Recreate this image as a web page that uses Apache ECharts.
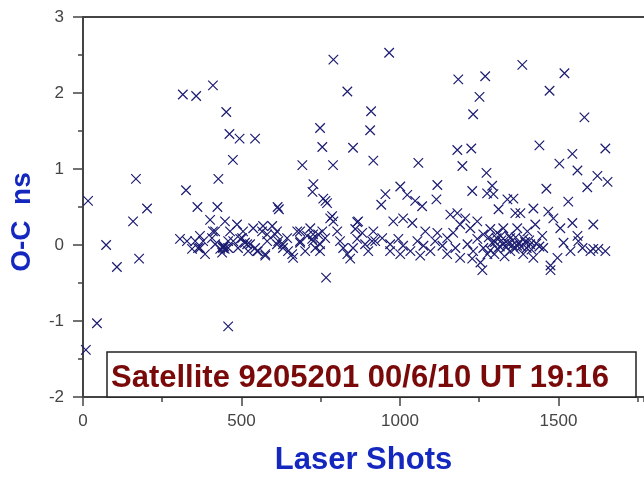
<!DOCTYPE html>
<html>
<head>
<meta charset="utf-8">
<script src="https://cdn.jsdelivr.net/npm/echarts@6/dist/echarts.min.js"></script>
<style>
html,body{margin:0;padding:0;background:#fff;}
#chart{width:644px;height:479px;}
</style>
</head>
<body>
<div id="chart"></div>
<script>
// ---- data (laser shot index, O-C residual in ns) ----
const xTicks = [0, 500, 1000, 1500];
const yTicks = [-2, -1, 0, 1, 2, 3];
const xTitle = 'Laser Shots';
const yTitle = 'O-C  ns';
const boxText = 'Satellite 9205201 00/6/10 UT 19:16';

const lowPoints = [
  [9,-1.38],[44,-1.03],[458,-1.07],[767,-0.43],[107,-0.29],[177,-0.18],[73,0.0]
];
const highPoints = [
  [16,0.58],[158,0.31],[167,0.87],[202,0.48],[315,1.98],[357,1.96],[410,2.10],[325,0.72],
  [452,1.75],[462,1.46],[494,1.40],[543,1.40],[473,1.12],[427,0.87],[361,0.50],[424,0.50],
  [401,0.33],[614,0.50],[618,0.47],[692,1.05],[727,0.80],[724,0.70],[748,1.54],[755,1.29],
  [765,0.58],[790,2.44],[966,2.53],[834,2.02],[909,1.76],[906,1.51],[852,1.28],[789,1.05],
  [916,1.11],[1058,1.08],[1184,2.18],[1269,2.22],[1251,1.95],[1231,1.72],[1386,2.37],[1519,2.26],
  [1472,2.03],[1582,1.68],[1181,1.25],[1225,1.27],[1197,1.04],[1273,0.95],[1440,1.31],[1544,1.20],
  [1503,1.07],[1560,0.98],[1648,1.27],[1623,0.91],[1655,0.83],[1591,0.76],[1462,0.74],[1531,0.57]
];
const midPoints = [
  [1118,0.79],[1115,0.60],[954,0.67],[941,0.53],[1001,0.77],[1023,0.66],[1048,0.58],[1070,0.51],
  [1228,0.71],[1291,0.78],[1275,0.68],[1295,0.67],[1339,0.60],[1311,0.47],[1364,0.42],[758,0.61],
  [770,0.55],[786,0.38],[790,0.31],[868,0.31],[780,0.35],[865,0.30],[1358,0.61],[1380,0.42],
  [1421,0.48],[1468,0.44],[1484,0.35],[1544,0.29],[1610,0.27],[979,0.31],[1010,0.35],[1039,0.29],
  [1159,0.40],[1181,0.42],[1206,0.35],[1190,0.27],[1244,0.31],[448,0.31],[486,0.27],[597,0.25],
  [568,0.25],[537,0.22],[717,0.22],[1222,0.22],[1326,0.22],[1427,0.27],[1506,0.22],[1370,0.22]
];
const bandLeft = [
  [306,0.08],[328,0.05],[354,0.05],[363,-0.04],[385,-0.12],[344,-0.05],[379,0.05],[407,0.09],
  [417,0.01],[442,-0.04],[445,-0.02],[440,-0.03],[443,-0.01],[447,-0.05],[439,-0.10],[458,0.05],
  [417,0.18],[464,0.18],[502,0.09],[511,0.03],[527,0.01],[543,-0.04],[521,-0.08],[552,-0.08],
  [575,-0.12],[606,0.14],[616,0.05],[631,0.01],[647,-0.08],[663,-0.17],[676,0.18],[685,0.05],
  [707,0.12],[726,0.05],[733,-0.04],[748,-0.08],[742,0.14],[764,0.09],[802,0.18],[811,0.05],
  [821,-0.04],[834,-0.12],[843,-0.18],[852,-0.04],[865,0.08],[890,0.01],[900,-0.08],[916,0.18],
  [565,0.18],[581,0.05],[701,-0.08],[489,-0.04],[458,-0.04],[474,0.05],[859,0.21],[881,0.16],
  [912,0.05],[369,0.12],[410,0.18],[505,0.18],[581,0.14],[612,0.18],[644,0.09],[685,0.18],
  [726,0.14],[755,0.18],[369,-0.04],[433,-0.05],[496,0.08],[518,0.01],[549,-0.08],[575,-0.14],
  [612,0.01],[631,-0.04],[660,-0.12],[685,0.03],[723,0.08],[748,0.01]
];
const bandRight = [
  [1080,0.18],[1168,0.16],[1263,0.14],[1285,0.21],[1307,0.16],[1348,0.09],[1118,0.16],[922,0.05],
  [944,0.09],[969,0.01],[995,0.08],[1010,-0.01],[1033,-0.08],[1055,0.05],[1074,-0.01],[1096,-0.08],
  [1111,0.05],[1134,-0.01],[1149,0.09],[1175,-0.04],[1190,-0.17],[1213,0.01],[1231,-0.08],[1244,0.08],
  [1263,-0.04],[1276,-0.12],[1254,-0.23],[1291,0.03],[1307,-0.05],[1326,0.01],[1348,-0.08],[1370,-0.01],
  [969,-0.08],[1001,-0.12],[1064,-0.14],[1149,-0.12],[1228,-0.18],[1560,0.12],[1576,-0.04],[1626,-0.05],
  [1601,-0.08],[1516,0.03],[1497,-0.17],[1475,-0.27],[1402,0.18],[1449,0.12],[1411,0.01],[1421,-0.17],
  [1389,-0.12],[1452,-0.04],[1538,-0.08],[1563,0.05],[1260,-0.33],[1475,-0.33],[1610,-0.05],[1648,-0.08],
  [1300,0.04],[1315,-0.02],[1320,0.06],[1335,-0.03],[1340,0.02],[1355,0.00],[1362,-0.05],[1375,0.03],
  [1382,-0.02],[1395,0.04],[1400,-0.04],[1408,0.06],[1415,-0.06],[1430,0.02],[1440,-0.02],[1285,-0.07],
  [1298,-0.12],[1330,-0.15],[1345,0.12],[1365,0.10],[1390,0.08],[1280,0.10],[1318,0.12],[1305,0.09]
];

const allPoints = [].concat(lowPoints, highPoints, midPoints, bandLeft, bandRight);

const chart = echarts.init(document.getElementById('chart'), null, {renderer: 'canvas'});
const axisColor = '#444';
const labelFont = '"Liberation Sans", Arial, sans-serif';

const option = {
  backgroundColor: '#ffffff',
  animation: false,
  grid: {left: 83, top: 17, right: 0, bottom: 82, containLabel: false, outerBoundsMode: 'none'},
  xAxis: [
    {
      type: 'value', min: 0, max: 1770, interval: 500, position: 'bottom',
      splitLine: {show: false},
      axisLine: {show: true, onZero: false, lineStyle: {color: axisColor, width: 2}},
      axisTick: {show: true, length: 9, lineStyle: {color: axisColor, width: 1.5}},
      axisLabel: {
        show: true, showMaxLabel: false, margin: 16, color: '#444', fontSize: 17,
        fontFamily: labelFont,
        formatter: v => (xTicks.indexOf(v) >= 0 ? String(v) : '')
      },
      name: xTitle, nameLocation: 'middle', nameGap: 48,
      nameTextStyle: {color: '#1428c0', fontSize: 31, fontWeight: 'bold', fontFamily: labelFont}
    },
    {
      type: 'value', min: 0, max: 1770, interval: 250, position: 'bottom',
      splitLine: {show: false},
      axisLine: {show: false, onZero: false},
      axisTick: {show: true, length: 5, lineStyle: {color: axisColor, width: 1.5}},
      axisLabel: {show: false}
    },
    {
      type: 'value', min: 0, max: 1770, position: 'top',
      splitLine: {show: false},
      axisLine: {show: true, onZero: false, lineStyle: {color: axisColor, width: 2}},
      axisTick: {show: false},
      axisLabel: {show: false}
    }
  ],
  yAxis: {
    type: 'value', min: -2, max: 3, interval: 1,
    splitLine: {show: false},
    axisLine: {show: true, onZero: false, lineStyle: {color: axisColor, width: 2}},
    axisTick: {show: true, length: 10, lineStyle: {color: axisColor, width: 1.5}},
    minorTick: {show: true, splitNumber: 2, length: 5, lineStyle: {color: axisColor, width: 1.5}},
    axisLabel: {
      margin: 19, color: '#444', fontSize: 17, fontFamily: labelFont,
      formatter: v => (yTicks.indexOf(v) >= 0 ? String(v) : '')
    }
  },
  series: [{
    type: 'scatter',
    xAxisIndex: 0,
    data: allPoints,
    symbol: 'path://M0,0L10,10M0,10L10,0',
    symbolSize: 9.5,
    itemStyle: {color: 'rgba(0,0,0,0)', borderColor: '#1c1c72', borderWidth: 1.2, opacity: 1},
    emphasis: {disabled: true}
  }],
  graphic: [
    {
      type: 'rect', z: 100,
      shape: {x: 107, y: 352, width: 529, height: 45},
      style: {fill: '#ffffff', stroke: '#222', lineWidth: 1.5}
    },
    {
      type: 'text', z: 101, x: 111, y: 378,
      style: {
        text: boxText, fill: '#7a0a0a', fontSize: 31, fontWeight: 'bold',
        fontFamily: labelFont, align: 'left', verticalAlign: 'middle'
      }
    },
    {
      type: 'text', z: 101, x: 22, y: 222, rotation: Math.PI / 2,
      style: {
        text: yTitle, fill: '#1428c0', fontSize: 28, fontWeight: 'bold',
        fontFamily: labelFont, align: 'center', verticalAlign: 'middle'
      }
    }
  ]
};
chart.setOption(option);
</script>
</body>
</html>
